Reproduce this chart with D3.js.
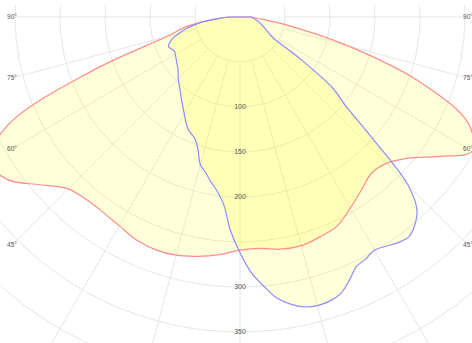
<!DOCTYPE html>
<html><head><meta charset="utf-8">
<script src="https://cdn.jsdelivr.net/npm/d3@7"></script>
<style>html,body{margin:0;padding:0;background:#fff;overflow:hidden}svg{display:block}</style>
</head><body>
<svg id="chart" width="472" height="343"></svg>
<script>
// Series 1 (red outline) – gamma angle (deg, 0 = nadir, + = right) and intensity
const redAngles = [-90,-85,-80,-75,-70,-65,-60,-55,-50,-45,-40,-35,-30,-25,-20,-15,-10,-5,0,5,10,15,20,25,30,35,40,45,50,55,60,65,70,75,80,85,90];
const redIntensity = [14,30,60,85,175,285,322,315,290,270,265,265,268,273,275,274,270,265,259,258,262,263,260,256,245,235,227,230,244,270,298,280,215,125,55,22,12];
// Series 2 (blue outline)
const blueAngles = [-90,-87.5,-85,-82.5,-80,-77.5,-75,-72.5,-70,-67.5,-65,-62.5,-60,-55,-50,-45,-40,-35,-30,-25,-20,-17.5,-15,-12.5,-10,-7.5,-5,-2.5,0,2.5,5,7.5,10,12.5,15,17.5,20,22.5,25,27.5,30,32.5,35,37.5,40,42.5,45,47.5,50,52.5,55,57.5,60,62.5,65,70,75,80,85,90];
const blueIntensity = [10,18,27,42,52,62,70,78,83,86,84,82,83,86,90,97,104,113,124,137,145,155,170,177,186,195,209,238,262,284,300,315,324,330,332,331,327,317,306,303,299,302,306,308,302,291,264,200,153,130,85,45,38,34,31,26,22,18,15,13];
// Grid
const ringValues = [50,100,150,200,250,300,350,400,450];
const radialTickLabels = [100,150,200,300,350];
const spokeAngles = [-90,-75,-60,-45,-30,-15,0,15,30,45,60,75,90];
const angleLabelValues = [90,75,60,45];
const angleLabelTexts = ["90°","75°","60°","45°"];

const W = 472, H = 343, cx = 240, cy = 17;
const r = d3.scaleLinear().domain([0, 350]).range([0, 315]);
const toRad = g => Math.PI - g * Math.PI / 180; // d3 radial angle: 0 = up, clockwise

const svg = d3.select("#chart");
svg.append("defs").append("clipPath").attr("id","plotclip")
  .append("rect").attr("x",0).attr("y",5).attr("width",W).attr("height",H-5);

const grid = svg.append("g").attr("clip-path","url(#plotclip)")
  .append("g").attr("transform",`translate(${cx},${cy})`);
grid.selectAll("circle").data(ringValues).join("circle")
  .attr("r", d => r(d)).attr("fill","none").attr("stroke","#e6e6e6").attr("stroke-width",1);

const labelDx = 228;
grid.selectAll("line").data(spokeAngles).join("line")
  .each(function(g){
    const a = g * Math.PI / 180;
    const s = Math.abs(Math.sin(a));
    let len = r(450);
    if (s > 1e-6) len = Math.min(len, labelDx / s);
    d3.select(this)
      .attr("x1", r(50) * Math.sin(a)).attr("y1", r(50) * Math.cos(a))
      .attr("x2", len * Math.sin(a)).attr("y2", len * Math.cos(a));
  })
  .attr("stroke","#e6e6e6").attr("stroke-width",1);

function pathFor(angles, vals){
  const pts = angles.map((g,i)=>({g, v: vals[i]}));
  return d3.lineRadial().angle(d => toRad(d.g)).radius(d => r(d.v))
    .curve(d3.curveCatmullRom.alpha(0.5))(pts) + "Z";
}

const plot = svg.append("g").attr("transform",`translate(${cx},${cy})`);
plot.append("path").attr("d", pathFor(redAngles, redIntensity))
  .attr("fill","#ffff00").attr("fill-opacity",0.15).attr("stroke","none");
plot.append("path").attr("d", pathFor(blueAngles, blueIntensity))
  .attr("fill","#ffff00").attr("fill-opacity",0.15).attr("stroke","none");
plot.append("path").attr("d", pathFor(redAngles, redIntensity))
  .attr("fill","none").attr("stroke","#ff8c8c").attr("stroke-width",1.2);
plot.append("path").attr("d", pathFor(blueAngles, blueIntensity))
  .attr("fill","none").attr("stroke","#8c8cff").attr("stroke-width",1.2);

// radial tick labels along nadir
plot.selectAll("text.rt").data(radialTickLabels).join("text").attr("class","rt")
  .attr("x",0).attr("y", d => r(d)).attr("text-anchor","middle").attr("dy","0.35em")
  .attr("font-family","Liberation Sans, Arial, sans-serif").attr("font-size",7).attr("fill","#555")
  .text(d => d);

// angle labels on both sides
const al = [];
angleLabelValues.forEach((g,i)=>{
  const yy = labelDx / Math.tan(g * Math.PI / 180);
  al.push({x: -labelDx, y: yy, t: angleLabelTexts[i]});
  al.push({x: labelDx, y: yy, t: angleLabelTexts[i]});
});
plot.selectAll("text.al").data(al).join("text").attr("class","al")
  .attr("x", d => d.x).attr("y", d => d.y).attr("text-anchor","middle").attr("dy","0.35em")
  .attr("font-family","Liberation Sans, Arial, sans-serif").attr("font-size",6.5).attr("fill","#555")
  .text(d => d.t);
</script>
</body></html>
